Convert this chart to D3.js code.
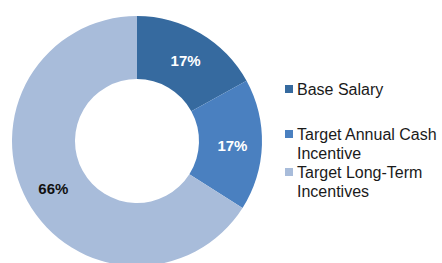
<!DOCTYPE html>
<html>
<head>
<meta charset="utf-8" />
<title>pay mix donut</title>
<script src="https://cdn.jsdelivr.net/npm/d3@7"></script>
<style>
html, body {
	margin:0;
	padding:0;
	background:#ffffff;
	font-family: 'Liberation Sans', Arial, sans-serif;
}
</style>
</head>
<body>
<script>

//=======================================
// data
//=======================================

const categories = ['Base Salary', 'Target Annual Cash Incentive', 'Target Long-Term Incentives'];
const values     = [17, 17, 66];
const legendLines = [['Base Salary'], ['Target Annual Cash', 'Incentive'], ['Target Long-Term', 'Incentives']];
const colors     = ['#366a9f', '#4a80c0', '#a8bcda'];
const labelColors = ['#ffffff', '#ffffff', '#111111'];


let width = 442,
		height = 263,
		cx = 137,
		cy = 141,
		outerR = 125,
		innerR = 62;

let svg = d3.select('body')
	.append('svg')
		.attr('width', width)
		.attr('height', height);

let pie = d3.pie().sort(null).value(d=>d)(values);

let arc = d3.arc().innerRadius(innerR).outerRadius(outerR);

//=====================
// slices
//=====================
svg.append('g')
	.attr('transform', 'translate('+[cx, cy]+')')
	.call(sel=>{

		sel.selectAll('path').data(pie)
			.enter()
				.append('path')
					.attr('d', arc)
					.attr('fill', (d,i)=>colors[i]);

		let labelArc = d3.arc().innerRadius(innerR+4).outerRadius(outerR);

		sel.selectAll('text').data(pie)
			.enter()
				.append('text')
					.attr('transform', d=>'translate('+labelArc.centroid(d)+')')
					.attr('text-anchor', 'middle')
					.attr('dy', 7)
					.attr('font-size', 15)
					.attr('font-weight', 'bold')
					.attr('fill', (d,i)=>labelColors[i])
					.text(d=>d.data+'%');
	});

//=====================
// legend
//=====================
let legendY = [95, 140, 178];

svg.append('g').attr('class','legend')
	.selectAll('g').data(categories)
		.enter()
			.append('g')
				.attr('transform', (d,i)=>'translate('+[285, legendY[i]]+')')
				.call(sel=>{

					sel.append('rect')
						.attr('x', 0)
						.attr('y', -10)
						.attr('width', 8)
						.attr('height', 8)
						.attr('fill', (d,i)=>colors[i]);

					sel.append('text')
						.attr('font-size', 16)
						.attr('fill', '#1a1a1a')
						.selectAll('tspan').data((d,i)=>legendLines[i])
							.enter()
								.append('tspan')
									.attr('x', 12)
									.attr('y', (d,j)=>j*18.5)
									.text(d=>d);
				});

</script>
</body>
</html>
